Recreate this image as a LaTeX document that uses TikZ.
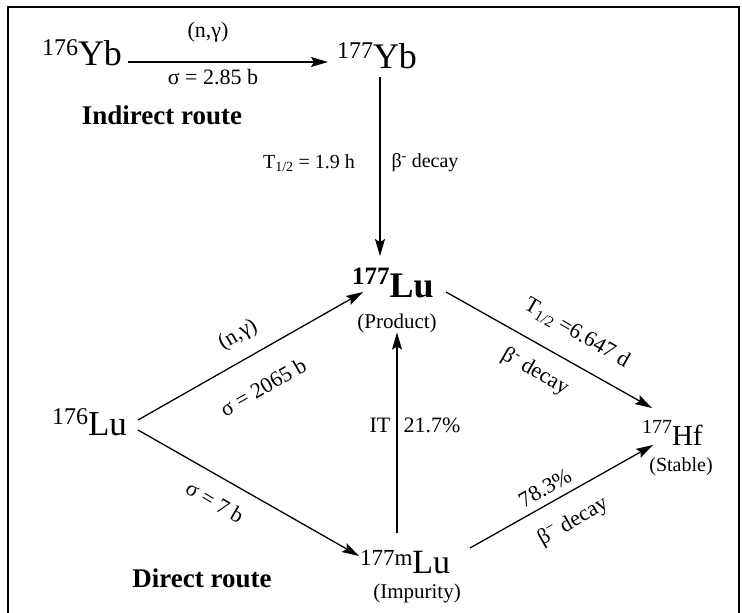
\documentclass[tikz,border=0pt]{standalone}
\usepackage{fontspec}
\setmainfont{Liberation Serif}
\usetikzlibrary{arrows.meta,calc}
\newcommand\fs[1]{\fontsize{#1}{#1}\selectfont}
\begin{document}
\begin{tikzpicture}[x=1pt,y=-1pt,
  txt/.style={inner sep=0pt,outer sep=0pt},
  nuc/.style={inner sep=0pt,outer sep=0pt,anchor=base west},
  lbl/.style={inner sep=0pt,font=\fs{22}},
  route/.style={inner sep=0pt,font=\fs{27}\bfseries},
  arr/.style={line width=1.3pt,-{Stealth[length=17pt,width=10pt,inset=3pt]}},
  frame/.style={line width=2pt}]
\useasboundingbox (0,0) rectangle (742,613);
\draw[frame] (8,620) -- (8,7) -- (739,7) -- (739,620);
% nuclides
\node[nuc] (yb176) at (42,65) {{\fs{24}\raisebox{10pt}{176}}{\fs{36}Yb}};
\node[nuc] (yb177) at (337,68) {{\fs{24}\raisebox{10pt}{177}}{\fs{36}Yb}};
\node[nuc] (lu177) at (352,297) {\bfseries{\fs{25}\raisebox{13pt}{177}}{\fs{36}Lu}};
\node[nuc] (lu176) at (52,435) {{\fs{24}\raisebox{11pt}{176}}{\fs{35}Lu}};
\node[nuc] (hf177) at (642,445) {{\fs{20}\raisebox{12pt}{177}}{\fs{29}Hf}};
\node[nuc] (lu177m) at (360,573) {{\fs{23}\raisebox{8pt}{177m}}{\fs{34}Lu}};
\node[txt,font=\fs{21}] (product) at (397,323) {(Product)};
\node[txt,font=\fs{21}] (impurity) at (417,593) {(Impurity)};
\node[txt,font=\fs{20}] (stable) at (681,467) {(Stable)};
% routes
\node[route] (indirect) at (162,115) {Indirect route};
\node[route] (direct) at (202,578) {Direct route};
% labels
\node[lbl] (l1) at (208,32) {(n,γ)};
\node[lbl] (l2) at (213,77) {σ = 2.85 b};
\node[lbl,font=\fs{20}] (l3) at (309,163) {T\textsubscript{1/2} = 1.9 h};
\node[lbl,font=\fs{20}] (l4) at (425,163) {β\textsuperscript{-} decay};
\node[lbl,rotate=30] (l5) at (238,335) {(n,γ)};
\node[lbl,rotate=30] (l6) at (263,387) {σ = 2065 b};
\node[lbl,rotate=-30] (l7) at (215,502) {σ = 7 b};
\node[lbl] (l8) at (380,425) {IT};
\node[lbl] (l9) at (432,425) {21.7\%};
\node[lbl,rotate=-30] (l10) at (577,333) {T\textsubscript{1/2} =6.647 d};
\node[lbl,rotate=-30] (l11) at (535,372) {β\textsuperscript{-} decay};
\node[lbl,rotate=30] (l12) at (545,488) {78.3\%};
\node[lbl,rotate=30] (l13) at (573,522) {β\textsuperscript{−} decay};
% arrows
\draw[arr] ($(yb176.base west)+(86,-3)$) -- ($(yb177.base west)+(-9,-6)$);
\draw[arr] ($(yb177.base west)+(43,9)$) -- ($(lu177.base west)+(28,-41)$);
\draw[arr] ($(lu176.base west)+(86,-15)$) -- ($(lu177.base west)+(11,-5)$);
\draw[arr] ($(lu176.base west)+(86,-5)$) -- ($(lu177m.base west)+(-1,-17)$);
\draw[arr] ($(lu177m.base west)+(37,-40)$) -- (product.south);
\draw[arr] ($(lu177.base west)+(94,-5)$) -- ($(hf177.base west)+(10,-37)$);
\draw[arr] ($(lu177m.base west)+(110,-25)$) -- ($(hf177.base west)+(11,0)$);
\end{tikzpicture}
\end{document}
